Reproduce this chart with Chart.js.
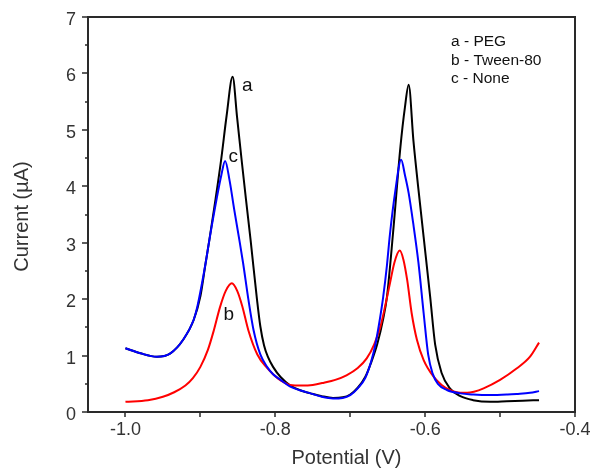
<!DOCTYPE html>
<html>
<head>
<meta charset="utf-8">
<script src="https://cdn.jsdelivr.net/npm/chart.js@4/dist/chart.umd.min.js"></script>
<style>
   html, body { margin: 0; padding: 0; background: #ffffff; }
   #wrap { width: 592px; height: 468px; }
</style>
</head>
<body>
<div id="wrap"><canvas id="chartCanvas" width="592" height="468"></canvas></div>
<script>
// a - PEG (black)
const potentialA = [-1.0, -0.98, -0.958, -0.94, -0.923, -0.909, -0.9, -0.893, -0.888, -0.88, -0.872, -0.865, -0.857, -0.851, -0.845, -0.839, -0.833, -0.8245, -0.82, -0.815, -0.81, -0.803, -0.793, -0.78, -0.766, -0.753, -0.738, -0.723, -0.71, -0.7, -0.69, -0.68, -0.672, -0.664, -0.656, -0.651, -0.643, -0.633, -0.627, -0.622, -0.6156, -0.609, -0.602, -0.5933, -0.5867, -0.578, -0.567, -0.553, -0.536, -0.513, -0.491, -0.47, -0.448];
const currentA = [1.13, 1.04, 0.98, 1.04, 1.28, 1.63, 2.05, 2.64, 3.05, 3.75, 4.5, 5.25, 5.94, 5.22, 4.47, 3.75, 3.05, 2.0, 1.52, 1.18, 0.98, 0.8, 0.62, 0.47, 0.38, 0.33, 0.28, 0.25, 0.26, 0.31, 0.43, 0.62, 0.88, 1.2, 1.65, 2.04, 3.15, 4.7, 5.4, 5.8, 4.8, 3.95, 3.1, 2.04, 1.2, 0.69, 0.42, 0.28, 0.21, 0.18, 0.19, 0.2, 0.21];

// b - Tween-80 (red)
const potentialB = [-1.0, -0.97, -0.95, -0.935, -0.92, -0.91, -0.9, -0.89, -0.882, -0.874, -0.866, -0.858, -0.851, -0.844, -0.836, -0.824, -0.811, -0.803, -0.793, -0.78, -0.765, -0.75, -0.735, -0.72, -0.705, -0.69, -0.678, -0.668, -0.66, -0.653, -0.647, -0.641, -0.634, -0.629, -0.624, -0.618, -0.611, -0.602, -0.589, -0.578, -0.567, -0.553, -0.544, -0.535, -0.522, -0.5, -0.478, -0.46, -0.448];
const currentB = [0.18, 0.21, 0.27, 0.35, 0.47, 0.6, 0.8, 1.1, 1.45, 1.85, 2.15, 2.28, 2.15, 1.87, 1.45, 1.02, 0.78, 0.67, 0.56, 0.48, 0.47, 0.48, 0.52, 0.57, 0.65, 0.78, 0.95, 1.2, 1.5, 1.9, 2.28, 2.65, 2.86, 2.7, 2.34, 1.75, 1.28, 0.92, 0.63, 0.48, 0.39, 0.34, 0.34, 0.36, 0.42, 0.57, 0.77, 0.98, 1.23];

// c - None (blue)
const potentialC = [-1.0, -0.98, -0.958, -0.94, -0.923, -0.909, -0.904, -0.893, -0.888, -0.878, -0.872, -0.867, -0.861, -0.855, -0.848, -0.843, -0.836, -0.829, -0.82, -0.811, -0.803, -0.793, -0.78, -0.766, -0.753, -0.738, -0.723, -0.71, -0.7, -0.69, -0.68, -0.672, -0.667, -0.661, -0.656, -0.651, -0.647, -0.64, -0.632, -0.627, -0.622, -0.616, -0.609, -0.602, -0.596, -0.59, -0.583, -0.571, -0.553, -0.536, -0.513, -0.49, -0.478, -0.46, -0.448];
const currentC = [1.13, 1.04, 0.98, 1.04, 1.28, 1.63, 1.87, 2.64, 3.05, 3.8, 4.2, 4.45, 4.1, 3.6, 3.05, 2.64, 2.0, 1.45, 1.02, 0.8, 0.67, 0.57, 0.45, 0.38, 0.33, 0.27, 0.24, 0.25, 0.3, 0.42, 0.6, 0.9, 1.16, 1.6, 2.04, 2.6, 3.15, 3.9, 4.47, 4.2, 3.88, 3.35, 2.65, 1.75, 1.02, 0.68, 0.5, 0.39, 0.33, 0.31, 0.3, 0.31, 0.32, 0.34, 0.37];

const xMajorTicks = [-1.0, -0.8, -0.6, -0.4];
const xMinorTicks = [-0.9, -0.7, -0.5];
const yMajorTicks = [0, 1, 2, 3, 4, 5, 6, 7];
const yMinorTicks = [0.5, 1.5, 2.5, 3.5, 4.5, 5.5, 6.5];

const legendLines = ["a - PEG", "b - Tween-80", "c - None"];
const peakLabels = [
   { text: "a", x: -0.8373, y: 5.78 },
   { text: "c", x: -0.8563, y: 4.53 },
   { text: "b", x: -0.8622, y: 1.72 },
];

const fontFamily = "'Liberation Sans', Arial, sans-serif";
const axisColor = "#2a2a2a";
const textColor = "#333333";

function toPoints(xs, ys)
{
   return xs.map(function(x, i)
   {
      return { x: x, y: ys[i] };
   });
}

const framePlugin =
{
   id: "frame",
   afterDraw: function(chart)
   {
      const ctx = chart.ctx;
      const area = chart.chartArea;
      const xScale = chart.scales.x;
      const yScale = chart.scales.y;

      ctx.save();
      ctx.strokeStyle = axisColor;
      ctx.lineWidth = 2;
      ctx.strokeRect(area.left, area.top, area.right - area.left, area.bottom - area.top);

      ctx.beginPath();
      xMajorTicks.concat(xMinorTicks).forEach(function(v)
      {
         const px = Math.round(xScale.getPixelForValue(v));
         ctx.moveTo(px, area.bottom);
         ctx.lineTo(px, area.bottom + 5);
      });
      yMajorTicks.forEach(function(v)
      {
         const py = Math.round(yScale.getPixelForValue(v));
         ctx.moveTo(area.left, py);
         ctx.lineTo(area.left - 6, py);
      });
      yMinorTicks.forEach(function(v)
      {
         const py = Math.round(yScale.getPixelForValue(v));
         ctx.moveTo(area.left, py);
         ctx.lineTo(area.left - 3, py);
      });
      ctx.lineWidth = 1.5;
      ctx.stroke();

      // axis titles
      ctx.fillStyle = textColor;
      ctx.font = "20px " + fontFamily;
      ctx.textAlign = "center";
      ctx.textBaseline = "middle";
      ctx.fillText("Potential (V)", (area.left + area.right) / 2 + 15, 458);
      ctx.save();
      ctx.translate(22, (area.top + area.bottom) / 2 + 2);
      ctx.rotate(-Math.PI / 2);
      ctx.fillText("Current (\u00b5A)", 0, 0);
      ctx.restore();

      // legend text
      ctx.fillStyle = "#111111";
      ctx.font = "15.5px " + fontFamily;
      ctx.textAlign = "left";
      legendLines.forEach(function(line, i)
      {
         ctx.fillText(line, area.left + 363, area.top + 24.5 + i * 18.8);
      });

      // peak labels
      ctx.font = "19px " + fontFamily;
      ctx.textAlign = "center";
      peakLabels.forEach(function(label)
      {
         ctx.fillText(label.text, xScale.getPixelForValue(label.x), yScale.getPixelForValue(label.y));
      });
      ctx.restore();
   }
};

const ctx = document.getElementById("chartCanvas").getContext("2d");
const chart = new Chart(ctx,
{
   type: "scatter",
   data:
   {
      datasets: [
         {
            label: "c - None",
            data: toPoints(potentialC, currentC),
            borderColor: "#0000ff",
         },
         {
            label: "b - Tween-80",
            data: toPoints(potentialB, currentB),
            borderColor: "#ff0000",
         },
         {
            label: "a - PEG",
            data: toPoints(potentialA, currentA),
            borderColor: "#000000",
         },
      ].map(function(ds)
      {
         ds.showLine = true;
         ds.pointRadius = 0;
         ds.borderWidth = 2;
         ds.cubicInterpolationMode = "monotone";
         return ds;
      }),
   },
   options:
   {
      responsive: false,
      animation: false,
      events: [],
      layout:
      {
         autoPadding: false,
         padding: { top: 17, right: 17, left: 0, bottom: 0 },
      },
      plugins:
      {
         legend: { display: false },
         tooltip: { enabled: false },
      },
      scales:
      {
         x:
         {
            type: "linear",
            min: -1.05,
            max: -0.4,
            afterFit: function(scale) { scale.height = 56; },
            afterBuildTicks: function(scale)
            {
               scale.ticks = xMajorTicks.map(function(v) { return { value: v }; });
            },
            grid: { display: false, drawTicks: true, tickLength: 6 },
            border: { display: false },
            ticks:
            {
               padding: 1,
               maxRotation: 0,
               autoSkip: false,
               color: textColor,
               font: { family: fontFamily, size: 18 },
               callback: function(value) { return Number(value).toFixed(1); },
            },
         },
         y:
         {
            type: "linear",
            min: 0,
            max: 7,
            afterFit: function(scale) { scale.width = 88; },
            afterBuildTicks: function(scale)
            {
               scale.ticks = yMajorTicks.map(function(v) { return { value: v }; });
            },
            grid: { display: false, drawTicks: true, tickLength: 6 },
            border: { display: false },
            ticks:
            {
               padding: 6,
               labelOffset: 3,
               color: textColor,
               font: { family: fontFamily, size: 18 },
               callback: function(value) { return String(value); },
            },
         },
      },
   },
   plugins: [framePlugin],
});
</script>
</body>
</html>
